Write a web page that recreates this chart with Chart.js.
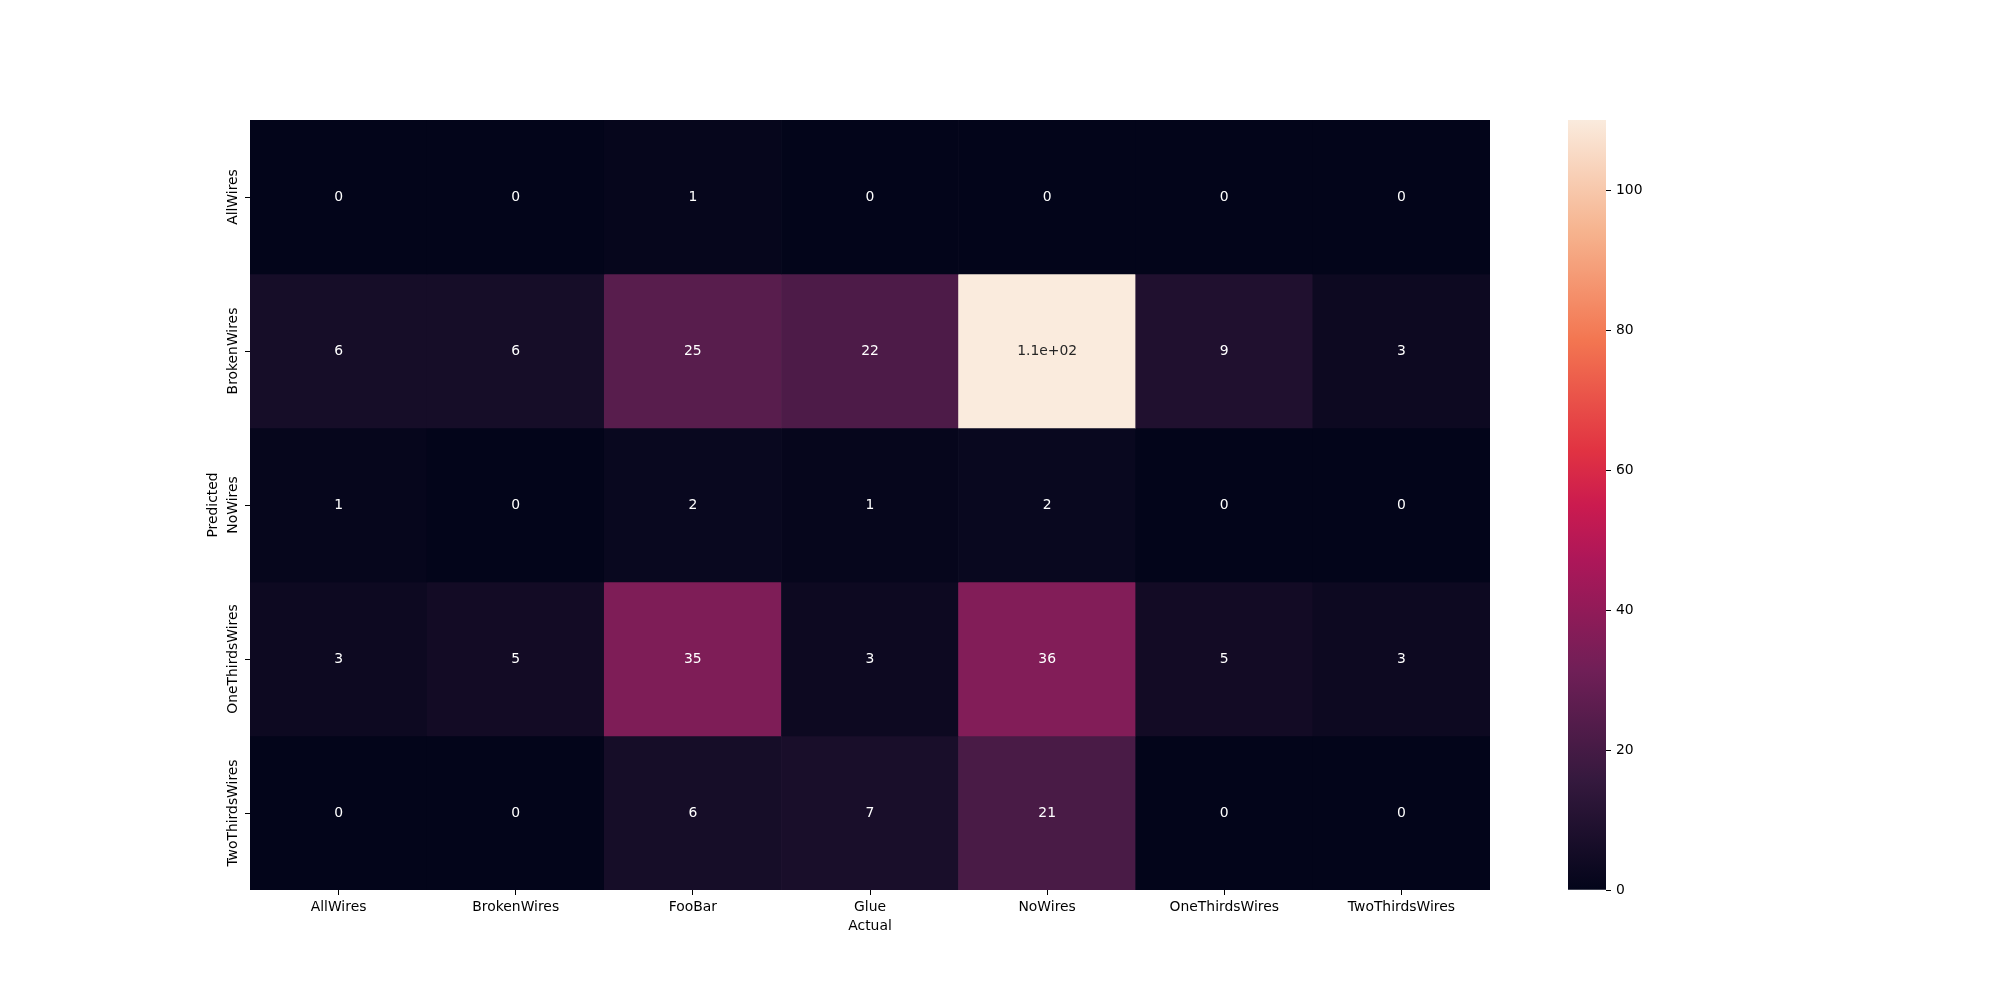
<!DOCTYPE html>
<html>
<head>
<meta charset="utf-8">
<script src="https://cdn.jsdelivr.net/npm/chart.js@4.4.0/dist/chart.umd.min.js"></script>
<style>
    body { margin: 0; background: #fff; }
    #wrap { position: relative; width: 2000px; height: 1000px; }
    #heatmap { position: absolute; left: 0; top: 0; }
    #colorbar { position: absolute; left: 1568px; top: 0; }
</style>
</head>
<body>
<div id="wrap">
    <canvas id="heatmap" width="2000" height="1000"></canvas>
    <canvas id="colorbar" width="100" height="1000"></canvas>
</div>
<script>
// confusion matrix: rows = predicted, columns = actual
const colLabels = ['AllWires', 'BrokenWires', 'FooBar', 'Glue', 'NoWires', 'OneThirdsWires', 'TwoThirdsWires'];
const rowLabels = ['AllWires', 'BrokenWires', 'NoWires', 'OneThirdsWires', 'TwoThirdsWires'];

const rowAllWires       = [0, 0, 1, 0, 0, 0, 0];
const rowBrokenWires    = [6, 6, 25, 22, 110, 9, 3];
const rowNoWires        = [1, 0, 2, 1, 2, 0, 0];
const rowOneThirdsWires = [3, 5, 35, 3, 36, 5, 3];
const rowTwoThirdsWires = [0, 0, 6, 7, 21, 0, 0];
const matrix = [rowAllWires, rowBrokenWires, rowNoWires, rowOneThirdsWires, rowTwoThirdsWires];

const colorbarTicks = [0, 20, 40, 60, 80, 100];
const vmin = 0;
const vmax = 110;

const FONT = { family: 'DejaVu Sans', size: 13.9 };
Chart.defaults.color = '#000';
Chart.defaults.font.family = FONT.family;
Chart.defaults.font.size = FONT.size;

// seaborn "rocket" colormap, sampled
const rocket = [
    [0.0000, [3, 5, 26]],
    [0.1429, [53, 25, 62]],
    [0.2857, [112, 31, 87]],
    [0.4286, [173, 23, 89]],
    [0.5000, [203, 27, 79]],
    [0.5714, [225, 51, 66]],
    [0.7143, [243, 118, 81]],
    [0.8571, [246, 180, 143]],
    [1.0000, [250, 235, 221]]
];

function rocketRGB(t) {
    t = Math.max(0, Math.min(1, t));
    for (let i = 1; i < rocket.length; i++) {
        if (t <= rocket[i][0]) {
            const [t0, c0] = rocket[i - 1];
            const [t1, c1] = rocket[i];
            const f = (t - t0) / (t1 - t0);
            return c0.map((c, k) => Math.round(c + (c1[k] - c) * f));
        }
    }
    return rocket[rocket.length - 1][1];
}
function colorFor(v) {
    const [r, g, b] = rocketRGB((v - vmin) / (vmax - vmin));
    return `rgb(${r},${g},${b})`;
}
function luminance(v) {
    const rgb = rocketRGB((v - vmin) / (vmax - vmin)).map(c => {
        c = c / 255;
        return c <= 0.03928 ? c / 12.92 : Math.pow((c + 0.055) / 1.055, 2.4);
    });
    return 0.2126 * rgb[0] + 0.7152 * rgb[1] + 0.0722 * rgb[2];
}
// python '%.2g'
function fmt2g(v) {
    if (Math.abs(v) >= 100) {
        let [m, e] = v.toExponential(1).split('e');
        m = m.replace(/\.0$/, '');
        const sign = e[0] === '-' ? '-' : '+';
        e = e.replace(/[+-]/, '').padStart(2, '0');
        return m + 'e' + sign + e;
    }
    return String(v);
}

// numbers in each cell
const annotatePlugin = {
    id: 'annotate',
    afterDatasetsDraw(chart) {
        const c = chart.ctx;
        c.save();
        c.font = `${FONT.size}px ${FONT.family}`;
        c.textAlign = 'center';
        c.textBaseline = 'middle';
        chart.data.datasets.forEach((ds, i) => {
            chart.getDatasetMeta(i).data.forEach((bar, j) => {
                const p = bar.getProps(['x', 'y', 'base'], true);
                const v = matrix[i][j];
                c.fillStyle = luminance(v) > 0.408 ? '#262626' : '#ffffff';
                c.fillText(fmt2g(v), p.x, (p.y + p.base) / 2);
            });
        });
        c.restore();
    }
};

// vertical row labels (rotated like matplotlib)
const rowLabelPlugin = {
    id: 'rowLabels',
    afterDraw(chart) {
        const c = chart.ctx;
        const yScale = chart.scales.y;
        const x = chart.chartArea.left - 13;
        c.save();
        c.font = `${FONT.size}px ${FONT.family}`;
        c.fillStyle = '#000';
        c.textAlign = 'center';
        c.textBaseline = 'alphabetic';
        rowLabels.forEach((lab, i) => {
            c.save();
            c.translate(x, yScale.getPixelForValue(i));
            c.rotate(-Math.PI / 2);
            c.fillText(lab, 0, 0);
            c.restore();
        });
        c.restore();
    }
};

const ctxHeat = document.getElementById('heatmap').getContext('2d');
const heatmap = new Chart(ctxHeat, {
    type: 'bar',
    data: {
        labels: colLabels,
        datasets: matrix.map((row, r) => ({
            label: rowLabels[r],
            data: row.map(() => [r - 0.5, r + 0.5]),
            backgroundColor: row.map(colorFor),
            borderWidth: 0,
            stack: 'cm',
            barPercentage: 1,
            categoryPercentage: 1
        }))
    },
    options: {
        responsive: false,
        devicePixelRatio: 1,
        animation: false,
        events: [],
        layout: { padding: { left: 205, right: 510, top: 120, bottom: 65 } },
        plugins: {
            legend: { display: false },
            tooltip: { enabled: false }
        },
        scales: {
            x: {
                stacked: true,
                border: { display: false },
                grid: { drawOnChartArea: false, offset: false, tickLength: 5, tickColor: '#000', tickWidth: 1 },
                ticks: { padding: 4, maxRotation: 0, autoSkip: false },
                title: { display: true, text: 'Actual', padding: 0 },
                afterFit(scale) { scale.height = 45; }
            },
            y: {
                type: 'linear',
                stacked: false,
                reverse: true,
                min: -0.5,
                max: rowLabels.length - 0.5,
                border: { display: false },
                grid: { drawOnChartArea: false, tickLength: 5, tickColor: '#000', tickWidth: 1 },
                ticks: { display: false },
                afterBuildTicks(scale) { scale.ticks = rowLabels.map((_, i) => ({ value: i })); },
                title: { display: true, text: 'Predicted', padding: 0 },
                afterFit(scale) { scale.width = 45; }
            }
        }
    },
    plugins: [annotatePlugin, rowLabelPlugin]
});

// colorbar
const ctxBar = document.getElementById('colorbar').getContext('2d');
const colorbar = new Chart(ctxBar, {
    type: 'bar',
    data: {
        labels: [''],
        datasets: [{
            data: [[vmin, vmax]],
            backgroundColor(context) {
                const { ctx, chartArea } = context.chart;
                if (!chartArea) return null;
                const g = ctx.createLinearGradient(0, chartArea.bottom, 0, chartArea.top);
                rocket.forEach(([t, [r, gg, b]]) => g.addColorStop(t, `rgb(${r},${gg},${b})`));
                return g;
            },
            borderWidth: 0,
            barPercentage: 1,
            categoryPercentage: 1
        }]
    },
    options: {
        responsive: false,
        devicePixelRatio: 1,
        animation: false,
        events: [],
        layout: { padding: { left: 0, right: 0, top: 120, bottom: 110 } },
        plugins: {
            legend: { display: false },
            tooltip: { enabled: false }
        },
        scales: {
            x: { display: false },
            y: {
                position: 'right',
                min: vmin,
                max: vmax,
                border: { display: false },
                grid: { drawOnChartArea: false, tickLength: 5, tickColor: '#000', tickWidth: 1 },
                ticks: { padding: 5 },
                afterBuildTicks(scale) { scale.ticks = colorbarTicks.map(v => ({ value: v })); },
                afterFit(scale) { scale.width = 62; }
            }
        }
    }
});
</script>
</body>
</html>
